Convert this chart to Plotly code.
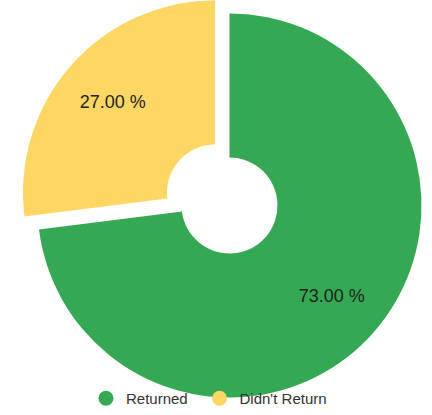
import plotly.graph_objects as go

labels = ["Returned", "Didn't Return"]
values = [73, 27]
colors = ["#34A853", "#FDD663"]

W, H = 432, 415
R = 192.0
HOLE = 0.25
TEXT_HOLE = 0.42
CENTER = (229.5, 205.5)          # main pie center (px, from top-left)
PULL_OFFSET = (-14.5, -13.0)     # offset of the exploded slice (px)
CLEAR = "rgba(0,0,0,0)"
LEGEND_X = [86, 199.5]           # left edge of each legend entry (px)

def domain_for(cx, cy, r):
    return dict(x=[(cx - r) / W, (cx + r) / W],
                y=[1 - (cy + r) / H, 1 - (cy - r) / H])

texts = [f"{v:.2f} %" for v in values]
tfont = dict(size=18, color="#222", family="Arial, Liberation Sans")

dom_main = domain_for(*CENTER, R)
dom_pull = domain_for(CENTER[0] + PULL_OFFSET[0], CENTER[1] + PULL_OFFSET[1], R)

fig = go.Figure()
common = dict(labels=labels, values=values, sort=False, direction="clockwise",
              rotation=0, showlegend=False, hoverinfo="skip",
              textposition="inside", insidetextorientation="horizontal",
              textfont=tfont)
# visible slices
fig.add_trace(go.Pie(**common, hole=HOLE, textinfo="none",
                     marker=dict(colors=[colors[0], CLEAR], line=dict(width=0)),
                     domain=dom_main))
fig.add_trace(go.Pie(**common, hole=HOLE, textinfo="none",
                     marker=dict(colors=[CLEAR, colors[1]], line=dict(width=0)),
                     domain=dom_pull))
# slice labels
fig.add_trace(go.Pie(**common, hole=TEXT_HOLE, textinfo="text",
                     text=[texts[0], ""],
                     marker=dict(colors=[CLEAR, CLEAR], line=dict(width=0)),
                     domain=dom_main))
fig.add_trace(go.Pie(**common, hole=TEXT_HOLE, textinfo="text",
                     text=["", texts[1]],
                     marker=dict(colors=[CLEAR, CLEAR], line=dict(width=0)),
                     domain=dom_pull))
# Legend entries with circle markers (one legend per entry for exact spacing)
legend_ids = ["legend", "legend2"]
for lab, col, lid in zip(labels, colors, legend_ids):
    fig.add_trace(go.Scatter(
        x=[None], y=[None], mode="markers", name=lab, legend=lid,
        marker=dict(symbol="circle", size=15, color=col),
    ))

leg_common = dict(orientation="h", xanchor="left", y=0,
                  yanchor="bottom", font=dict(size=15, color="#333"),
                  bgcolor="rgba(0,0,0,0)", itemsizing="trace")

fig.update_layout(
    width=W, height=H,
    margin=dict(l=0, r=0, t=0, b=0),
    paper_bgcolor="white", plot_bgcolor="white",
    xaxis=dict(visible=False), yaxis=dict(visible=False),
    font=dict(family="Arial, Liberation Sans"),
    showlegend=True,
    legend=dict(x=LEGEND_X[0] / W, **leg_common),
    legend2=dict(x=LEGEND_X[1] / W, **leg_common),
)

fig.write_html("out.html", config={"displayModeBar": False},
               post_script="document.body.style.margin='0';document.body.style.overflow='hidden';")
